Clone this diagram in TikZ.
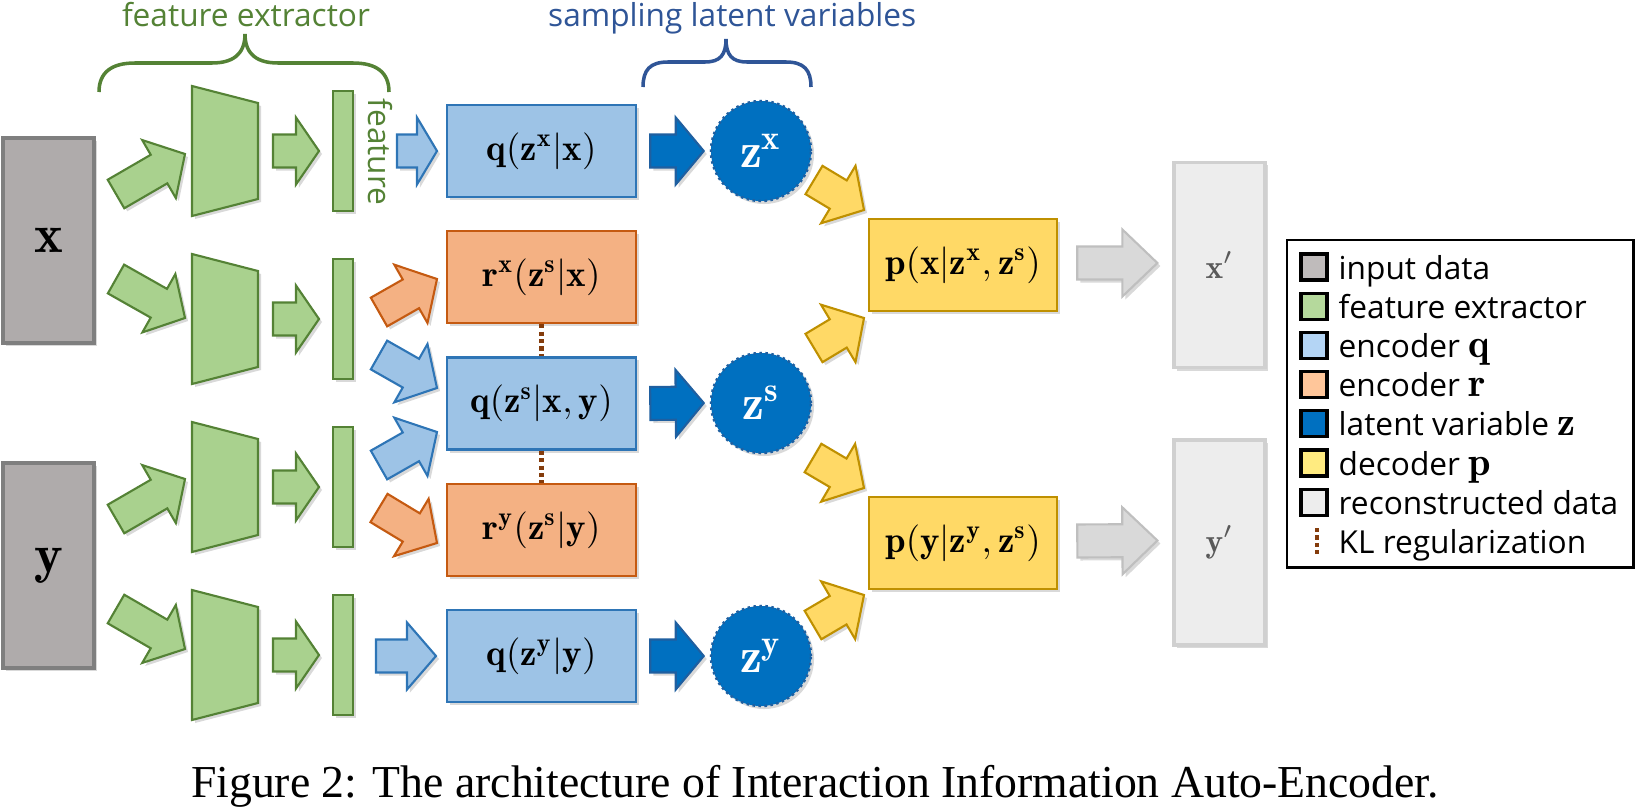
\RequirePackage{fix-cm}
\documentclass[tikz,border=0pt]{standalone}
\usepackage{fontspec}
\usetikzlibrary{calc,shadows}
\newfontfamily\lblfont{Open Sans}
\newfontfamily\capfont{Liberation Serif}

\definecolor{ingray}{HTML}{AFABAB}
\definecolor{ingrayd}{HTML}{7F7F7F}
\definecolor{fefill}{HTML}{A9D18E}
\definecolor{feline}{HTML}{548235}
\definecolor{qfill}{HTML}{9DC3E6}
\definecolor{qline}{HTML}{2E75B6}
\definecolor{rfill}{HTML}{F4B183}
\definecolor{rline}{HTML}{C55A11}
\definecolor{zfill}{HTML}{0070C0}
\definecolor{zline}{HTML}{1F5FA0}
\definecolor{pfill}{HTML}{FFD966}
\definecolor{pline}{HTML}{BF9000}
\definecolor{recfill}{HTML}{EDEDED}
\definecolor{recline}{HTML}{D0D0D0}
\definecolor{garr}{HTML}{D9D9D9}
\definecolor{garrline}{HTML}{BFBFBF}
\definecolor{klbrown}{HTML}{843C0C}
\definecolor{samptext}{HTML}{2F5597}
\definecolor{legin}{HTML}{BFBBBB}
\definecolor{legfe}{HTML}{B5D99C}
\definecolor{legq}{HTML}{B4D5F5}
\definecolor{legr}{HTML}{FFC69A}
\definecolor{legp}{HTML}{FFEB80}

\newcommand{\vb}[1]{\mathbf{#1}}
\newcommand{\lm}[1]{{\fontsize{11.5}{12}\selectfont$\vb{#1}$}}
% block arrow from #2 to #3, head length #4
\newcommand{\barrow}[4][]{%
  \coordinate (ha) at ($(#3)!#4!(#2)$);
  \draw[#1] ($(#2)!0.165cm!90:(#3)$) -- ($(ha)!0.165cm!-90:(#2)$) -- ($(ha)!0.335cm!-90:(#2)$) -- (#3)
    -- ($(ha)!0.335cm!90:(#2)$) -- ($(ha)!0.165cm!90:(#2)$) -- ($(#2)!0.165cm!-90:(#3)$) -- cycle;}

\begin{document}
\begin{tikzpicture}[x=0.01cm, y=-0.01cm,
  softshadow/.style={drop shadow={opacity=0.3, shadow xshift=0.03cm, shadow yshift=-0.03cm}},
  databox/.style={rectangle, inner sep=0pt, minimum width=0.91cm, minimum height=2.05cm, line width=0.9pt, softshadow},
  enc/.style={rectangle, inner sep=0pt, minimum width=1.89cm, minimum height=0.92cm, line width=0.7pt, softshadow, font=\fontsize{10.5}{12}\selectfont},
  latent/.style={circle, inner sep=0pt, minimum size=1cm, fill=zfill, draw=zline, densely dotted, line width=0.7pt, text=white, softshadow, font=\fontsize{14}{16}\selectfont},
  featbar/.style={rectangle, inner sep=0pt, minimum width=0.2cm, minimum height=1.2cm, fill=fefill, draw=feline, line width=0.6pt, softshadow},
  fearr/.style={fill=fefill, draw=feline, line width=0.6pt, softshadow},
  qarr/.style={fill=qfill, draw=qline, line width=0.6pt, softshadow},
  rarr/.style={fill=rfill, draw=rline, line width=0.6pt, softshadow},
  zarr/.style={fill=zfill, draw=zline, line width=0.6pt, softshadow},
  parr/.style={fill=pfill, draw=pline, line width=0.6pt, softshadow},
  recarr/.style={fill=garr, draw=garrline, line width=0.6pt, softshadow},
  kl/.style={klbrown, line width=1.2pt, dash pattern=on 1.2pt off 0.9pt},
  swatch/.style={rectangle, inner sep=0pt, minimum size=0.26cm, draw=black, line width=0.9pt},
  lbl/.style={inner sep=0pt, font=\lblfont\fontsize{9}{11}\selectfont},
  legtext/.style={lbl, anchor=base west}
]
\useasboundingbox (0,0) rectangle (1636,812);

% input data
\node[databox, fill=ingray, draw=ingrayd, font=\fontsize{15.5}{18}\selectfont] (xin) at (48.5,240.5) {$\vb{x}$};
\node[databox, fill=ingray, draw=ingrayd, font=\fontsize{15.5}{18}\selectfont] (yin) at (48.5,565.5) {$\vb{y}$};

% feature extractors
\foreach \r [count=\i] in {151,319,487,655} {
  \draw[fearr, shift={(225,\r)}] (-33,-65) -- (33,-48) -- (33,48) -- (-33,65) -- cycle;
  \node[featbar] (bar\i) at (343,\r) {};
  \coordinate (fs\i) at (273,\r);
  \coordinate (ft\i) at (319,\r);
  \barrow[fearr]{fs\i}{ft\i}{0.23cm}
}
\foreach \ax/\ay/\bx/\by [count=\i] in {116/194/185/154, 116/279/185/318, 116/519/185/479, 116/609/185/649} {
  \coordinate (da\i) at (\ax,\ay);
  \coordinate (db\i) at (\bx,\by);
  \barrow[fearr]{da\i}{db\i}{0.3cm}
}
\node[lbl, text=feline, rotate=-90] (feat) at (380,152) {feature};

% encoders
\node[enc, fill=qfill, draw=qline] (qx) at (541.5,151) {$\vb{q}(\vb{z}^{\vb{x}}|\vb{x})$};
\node[enc, fill=rfill, draw=rline] (rx) at (541.5,277) {$\vb{r}^{\vb{x}}(\vb{z}^{\vb{s}}|\vb{x})$};
\node[enc, fill=qfill, draw=qline] (qs) at (541.5,403.5) {$\vb{q}(\vb{z}^{\vb{s}}|\vb{x},\vb{y})$};
\node[enc, fill=rfill, draw=rline] (ry) at (541.5,530) {$\vb{r}^{\vb{y}}(\vb{z}^{\vb{s}}|\vb{y})$};
\node[enc, fill=qfill, draw=qline] (qy) at (541.5,656) {$\vb{q}(\vb{z}^{\vb{y}}|\vb{y})$};
\draw[kl] (rx.south) -- (qs.north);
\draw[kl] (qs.south) -- (ry.north);

% features to encoders
\foreach \ax/\ay/\bx/\by/\hl [count=\i] in {397/151/437/151/0.2cm, 379/355/437/388/0.3cm, 379/465/437/432/0.3cm, 376/656/436/656/0.29cm} {
  \coordinate (qa\i) at (\ax,\ay);
  \coordinate (qb\i) at (\bx,\by);
  \barrow[qarr]{qa\i}{qb\i}{\hl}
}
\foreach \ax/\ay/\bx/\by [count=\i] in {379/312/437/279, 379/508/437/543} {
  \coordinate (ra\i) at (\ax,\ay);
  \coordinate (rb\i) at (\bx,\by);
  \barrow[rarr]{ra\i}{rb\i}{0.3cm}
}

% latent variables
\node[latent] (zx) at (761,151) {$\vb{z}^{\vb{x}}$};
\node[latent] (zs) at (761,403) {$\vb{z}^{\vb{s}}$};
\node[latent] (zy) at (761,656) {$\vb{z}^{\vb{y}}$};
\foreach \e/\z in {qx/zx, qs/zs, qy/zy} {
  \coordinate (\e-a) at ($(\e.east)+(13,0)$);
  \coordinate (\e-b) at ($(\z.west)+(-6,0)$);
  \barrow[zarr]{\e-a}{\e-b}{0.28cm}
}

% decoders
\node[enc, fill=pfill, draw=pline, minimum width=1.88cm] (px) at (963,265) {$\vb{p}(\vb{x}|\vb{z}^{\vb{x}},\vb{z}^{\vb{s}})$};
\node[enc, fill=pfill, draw=pline, minimum width=1.88cm] (py) at (963,543) {$\vb{p}(\vb{y}|\vb{z}^{\vb{y}},\vb{z}^{\vb{s}})$};
\foreach \ax/\ay/\bx/\by [count=\i] in {814/180/864/210, 814/348/864/318, 813/458/864/488, 813/625/864/595} {
  \coordinate (pa\i) at (\ax,\ay);
  \coordinate (pb\i) at (\bx,\by);
  \barrow[parr]{pa\i}{pb\i}{0.3cm}
}

% reconstructed data
\node[databox, fill=recfill, draw=recline, text=black!65, font=\fontsize{9.5}{11}\selectfont] (xo) at (1219.5,265) {$\vb{x}'$};
\node[databox, fill=recfill, draw=recline, text=black!65, font=\fontsize{9.5}{11}\selectfont] (yo) at (1219.5,542.5) {$\vb{y}'$};
\foreach \d/\o in {px/xo, py/yo} {
  \coordinate (\d-a) at ($(\d.east)+(19,-2)$);
  \coordinate (\d-b) at ($(\o.west)+(-15,-2)$);
  \barrow[recarr]{\d-a}{\d-b}{0.35cm}
}

% braces
\draw[feline, line width=1pt] (99,92) .. controls (99,72) and (112,63) .. (135,63) -- (212,63)
  .. controls (232,63) and (245,55) .. (245,34) .. controls (245,55) and (258,63) .. (278,63)
  -- (353,63) .. controls (376,63) and (389,72) .. (389,92);
\node[lbl, text=feline, anchor=base] (fetitle) at (246,27) {feature extractor};
\draw[samptext, line width=1pt] (643,87) .. controls (643,70) and (650,62) .. (668,62) -- (705,62)
  .. controls (720,62) and (726,55) .. (726,39) .. controls (726,55) and (732,62) .. (747,62)
  -- (786,62) .. controls (804,62) and (811,70) .. (811,87);
\node[lbl, text=samptext, anchor=base east] (samptitle) at (917,27) {sampling latent variables};

% legend
\node[draw=black, line width=0.8pt, minimum width=3.46cm, minimum height=3.27cm, inner sep=0pt] (legend) at (1460,403.5) {};
\foreach \col/\txt [count=\i] in {legin/input data, legfe/feature extractor, legq/encoder \lm{q}, legr/encoder \lm{r}, zfill/latent variable \lm{z}, legp/decoder \lm{p}, recfill/reconstructed data} {
  \node[swatch, fill=\col] (sw\i) at (1314,{267+39.2*(\i-1)}) {};
  \node[legtext] (lt\i) at (1338,{279+39.2*(\i-1)}) {\txt};
}
\coordinate (kla) at (1317,528);
\coordinate (klb) at (1317,556);
\draw[kl] (kla) -- (klb);
\node[legtext] (lt8) at (1338,553.4) {KL regularization};

% caption
\node[font=\capfont\fontsize{13}{15}\selectfont, anchor=base] (caption) at (815,797) {Figure 2: The architecture of Interaction Information Auto-Encoder.};
\end{tikzpicture}
\end{document}
